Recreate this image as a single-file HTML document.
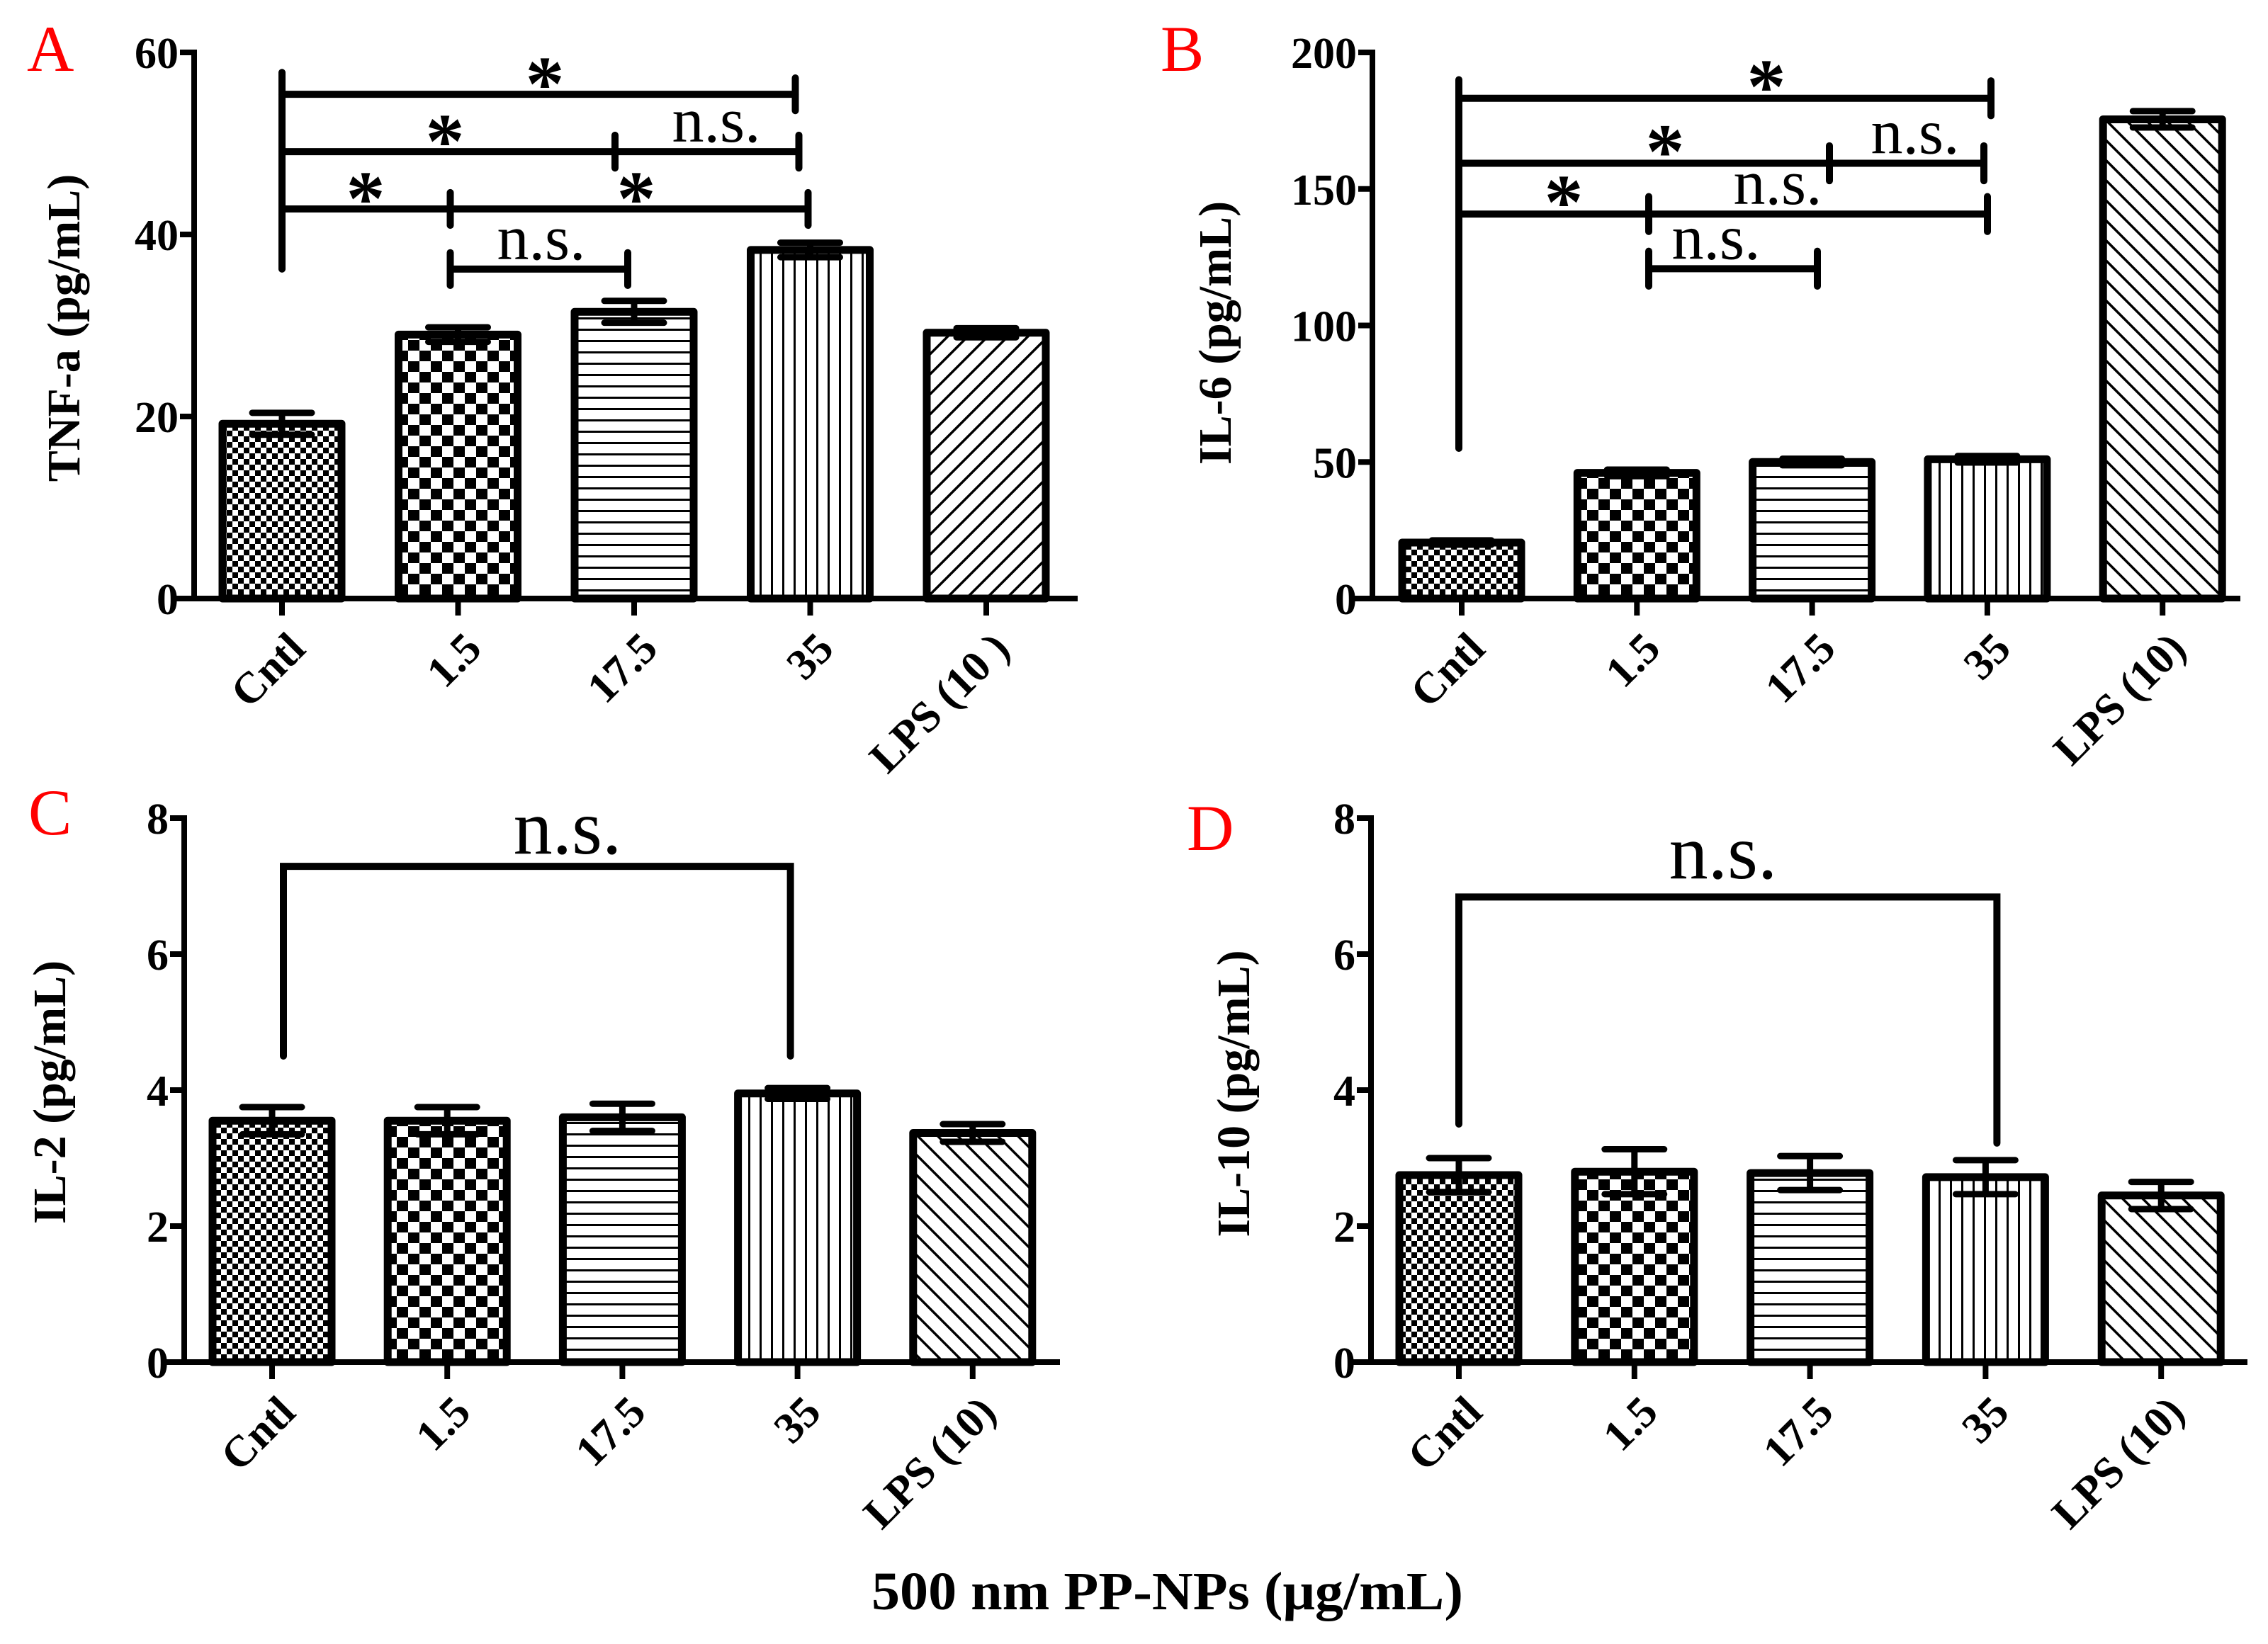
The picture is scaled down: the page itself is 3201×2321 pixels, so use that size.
<!DOCTYPE html>
<html><head><meta charset="utf-8"><style>html,body{margin:0;padding:0;background:#fff}svg{display:block}</style></head>
<body>
<svg id="fig" xmlns="http://www.w3.org/2000/svg" width="3201" height="2321" viewBox="0 0 3201 2321" font-family="'Liberation Serif', serif">
<defs>
<pattern id="pFine" width="16" height="16" patternUnits="userSpaceOnUse"><rect width="16" height="16" fill="#fff"/><rect width="8" height="8" fill="#000"/><rect x="8" y="8" width="8" height="8" fill="#000"/></pattern>
<pattern id="pCheck" width="32" height="30" patternUnits="userSpaceOnUse"><rect width="32" height="30" fill="#fff"/><rect width="16" height="15" fill="#000"/><rect x="16" y="15" width="16" height="15" fill="#000"/></pattern>
<pattern id="pHor" width="16" height="16" patternUnits="userSpaceOnUse"><rect width="16" height="16" fill="#fff"/><rect y="0" width="16" height="3" fill="#000"/></pattern>
<pattern id="pVer" width="16" height="16" patternUnits="userSpaceOnUse"><rect width="16" height="16" fill="#fff"/><rect x="0" width="3" height="16" fill="#000"/></pattern>
<pattern id="pDiagR" width="20" height="20" patternUnits="userSpaceOnUse" patternTransform="rotate(45)"><rect width="20" height="20" fill="#fff"/><rect width="3.5" height="20" fill="#000"/></pattern>
<pattern id="pDiagL" width="20" height="20" patternUnits="userSpaceOnUse" patternTransform="rotate(-45)"><rect width="20" height="20" fill="#fff"/><rect width="3.5" height="20" fill="#000"/></pattern>
</defs>
<text x="1230" y="2272" font-size="76" font-weight="bold" textLength="835" lengthAdjust="spacingAndGlyphs">500 nm PP-NPs (μg/mL)</text>
</svg>
<script>
const categories = ['Cntl', '1.5', '17.5', '35', 'LPS (10)'];
const categoriesA = ['Cntl', '1.5', '17.5', '35', 'LPS (10 )'];
const tnfValues = [19.2, 29.0, 31.5, 38.3, 29.2];
const tnfErrors = [1.2, 0.8, 1.2, 0.8, 0.5];
const il6Values = [20.5, 46, 50, 51, 175.5];
const il6Errors = [0.8, 1.2, 1.2, 1.2, 3];
const il2Values = [3.55, 3.55, 3.6, 3.95, 3.37];
const il2Errors = [0.2, 0.2, 0.2, 0.08, 0.13];
const il10Values = [2.75, 2.8, 2.78, 2.72, 2.45];
const il10Errors = [0.25, 0.33, 0.25, 0.25, 0.2];
const tnfTicks = [0, 20, 40, 60];
const il6Ticks = [0, 50, 100, 150, 200];
const il2Ticks = [0, 2, 4, 6, 8];
const il10Ticks = [0, 2, 4, 6, 8];

const NS = 'http://www.w3.org/2000/svg';
const svg = document.getElementById('fig');
function mk(tag, attrs, name, parent) {
  const el = document.createElementNS(NS, tag);
  for (const k in attrs) el.setAttribute(k, attrs[k]);
  
  
  (parent || svg).appendChild(el);
  return el;
}
const fills = ['url(#pFine)', 'url(#pCheck)', 'url(#pHor)', 'url(#pVer)'];

function panel(p) {
  const g = mk('g', {}, p.id + '-panel');
  const span = p.ticks[p.ticks.length - 1];
  const y = v => p.y0 - (v / span) * (p.y0 - p.yTop);
  const x = i => p.cx0 + i * p.step;
  p.x = x; p.y = y;
  mk('text', {x: p.letterX, y: p.letterY, 'font-size': 92, fill: '#ff0000'}, 'panel-letter-' + p.id, g).textContent = p.letter;
  p.values.forEach((v, i) => {
    const bw = 168;
    mk('rect', {x: x(i) - bw / 2, y: y(v), width: bw, height: p.y0 - y(v), fill: i === 4 ? p.diag : fills[i], stroke: '#000', 'stroke-width': 11, 'stroke-linejoin': 'round'}, 'bar-' + categories[i].toLowerCase().replace(/[^a-z0-9.]+/g, '-'), g);
    const e = p.errors[i];
    mk('path', {d: `M${x(i)} ${y(v + e)}V${y(v - e)}M${x(i) - 42} ${y(v + e)}H${x(i) + 42}M${x(i) - 42} ${y(v - e)}H${x(i) + 42}`, stroke: '#000', 'stroke-width': 9, 'stroke-linecap': 'round', fill: 'none'}, 'error-bar', g);
    mk('line', {x1: x(i), x2: x(i), y1: p.y0, y2: p.y0 + 24, stroke: '#000', 'stroke-width': 8}, 'x-tick', g);
    const t = mk('text', {x: 0, y: 0, 'font-size': 62, 'font-weight': 'bold', 'text-anchor': 'end', transform: `translate(${x(i) + 36},${p.y0 + 74}) rotate(-45)`}, 'x-tick-label', g);
    t.textContent = p.labels[i];
  });
  mk('line', {x1: p.axisX, x2: p.axisX, y1: p.yTop - 4, y2: p.y0 + 4, stroke: '#000', 'stroke-width': 8}, 'y-axis', g);
  mk('line', {x1: p.axisX - 30, x2: p.xEnd, y1: p.y0, y2: p.y0, stroke: '#000', 'stroke-width': 8}, 'x-axis', g);
  p.ticks.forEach(t => {
    mk('line', {x1: p.axisX - 20, x2: p.axisX, y1: y(t), y2: y(t), stroke: '#000', 'stroke-width': 8}, 'y-tick', g);
    const tl = mk('text', {x: p.axisX - 22, y: y(t) + 22, 'font-size': 62, 'font-weight': 'bold', 'text-anchor': 'end'}, 'y-tick-label', g);
    tl.textContent = t;
  });
  const yt = mk('text', {x: 0, y: 0, 'font-size': 66, 'font-weight': 'bold', 'text-anchor': 'middle', transform: `translate(${p.ytX},${p.ytY}) rotate(-90)`}, 'y-axis-title', g);
  yt.textContent = p.ytitle;
  return g;
}
function seg(g, p, x1, x2, v) {
  const y = p.y(v);
  mk('path', {d: `M${x1} ${y}H${x2}`, stroke: '#000', 'stroke-width': 10, fill: 'none', 'stroke-linecap': 'round'}, 'significance-bracket', g);
}
function vtick(g, p, xx, v1, v2) {
  mk('line', {x1: xx, x2: xx, y1: p.y(v1), y2: p.y(v2), stroke: '#000', 'stroke-width': 10, 'stroke-linecap': 'round'}, 'bracket-end', g);
}
function label(g, xx, yy, txt, size, name) {
  const t = mk('text', {x: xx, y: yy, 'font-size': size, 'text-anchor': 'middle', 'font-weight': txt === '*' ? 'bold' : 'normal'}, name, g);
  t.textContent = txt;
}

const A = {id: 'a', letter: 'A', letterX: 38, letterY: 100, values: tnfValues, errors: tnfErrors, ticks: tnfTicks, labels: categoriesA,
  y0: 845, yTop: 74, axisX: 274, xEnd: 1521, cx0: 398, step: 248.5, diag: 'url(#pDiagR)', ytitle: 'TNF-a (pg/mL)', ytX: 112, ytY: 463};
const gA = panel(A);
vtick(gA, A, A.x(0), 57.8, 36.2);
seg(gA, A, A.x(0), A.x(3) - 21, 55.4); vtick(gA, A, A.x(3) - 21, 57.2, 53.6);
seg(gA, A, A.x(0), A.x(3) - 16, 49.1); vtick(gA, A, A.x(2) - 27, 50.9, 47.3); vtick(gA, A, A.x(3) - 16, 50.9, 47.3);
seg(gA, A, A.x(0), A.x(3) - 3, 42.8); vtick(gA, A, A.x(1) - 11, 44.6, 41); vtick(gA, A, A.x(3) - 3, 44.6, 41);
seg(gA, A, A.x(1) - 11, A.x(2) - 9, 36.2); vtick(gA, A, A.x(1) - 11, 38, 34.4); vtick(gA, A, A.x(2) - 9, 38, 34.4);
label(gA, 769, A.y(55.4) + 22, '*', 110, 'significance-star');
label(gA, 628, A.y(49.1) + 22, '*', 110, 'significance-star');
label(gA, 516, A.y(42.8) + 22, '*', 110, 'significance-star');
label(gA, 898, A.y(42.8) + 22, '*', 110, 'significance-star');
label(gA, 1011, A.y(49.1) - 14, 'n.s.', 90, 'ns-label');
label(gA, 764, A.y(36.2) - 14, 'n.s.', 90, 'ns-label');

const B = {id: 'b', letter: 'B', letterX: 1638, letterY: 100, values: il6Values, errors: il6Errors, ticks: il6Ticks, labels: categories,
  y0: 845, yTop: 74, axisX: 1937, xEnd: 3162, cx0: 2063, step: 247.3, diag: 'url(#pDiagL)', ytitle: 'IL-6 (pg/mL)', ytX: 1737, ytY: 470};
const gB = panel(B);
vtick(gB, B, B.x(0) - 4, 190, 55);
seg(gB, B, B.x(0) - 4, 2810, 183.2); vtick(gB, B, 2810, 189.6, 176.8);
seg(gB, B, B.x(0) - 4, 2800, 159.4); vtick(gB, B, 2582, 165.8, 153); vtick(gB, B, 2800, 165.8, 153);
seg(gB, B, B.x(0) - 4, 2805, 140.8); vtick(gB, B, 2327, 147.2, 134.4); vtick(gB, B, 2805, 147.2, 134.4);
seg(gB, B, 2327, 2565, 120.8); vtick(gB, B, 2327, 127.2, 114.4); vtick(gB, B, 2565, 127.2, 114.4);
label(gB, 2493, B.y(183.2) + 20, '*', 110, 'significance-star');
label(gB, 2350, B.y(159.4) + 20, '*', 110, 'significance-star');
label(gB, 2207, B.y(140.8) + 20, '*', 110, 'significance-star');
label(gB, 2703, B.y(159.4) - 14, 'n.s.', 90, 'ns-label');
label(gB, 2509, B.y(140.8) - 14, 'n.s.', 90, 'ns-label');
label(gB, 2422, B.y(120.8) - 14, 'n.s.', 90, 'ns-label');

const C = {id: 'c', letter: 'C', letterX: 40, letterY: 1178, values: il2Values, errors: il2Errors, ticks: il2Ticks, labels: categories,
  y0: 1923, yTop: 1155, axisX: 260, xEnd: 1496, cx0: 384, step: 247.2, diag: 'url(#pDiagL)', ytitle: 'IL-2 (pg/mL)', ytX: 92, ytY: 1542};
const gC = panel(C);
mk('path', {d: `M${C.x(0) + 16} ${C.y(4.5)}V${C.y(7.29)}H${C.x(3) - 10}V${C.y(4.5)}`, stroke: '#000', 'stroke-width': 10, fill: 'none', 'stroke-linecap': 'round'}, 'significance-bracket', gC);
label(gC, 801, 1205, 'n.s.', 110, 'ns-label');

const D = {id: 'd', letter: 'D', letterX: 1675, letterY: 1200, values: il10Values, errors: il10Errors, ticks: il10Ticks, labels: categories,
  y0: 1923, yTop: 1155, axisX: 1935, xEnd: 3172, cx0: 2059, step: 247.8, diag: 'url(#pDiagL)', ytitle: 'IL-10 (pg/mL)', ytX: 1763, ytY: 1544};
const gD = panel(D);
mk('path', {d: `M${D.x(0)} ${D.y(3.5)}V${D.y(6.84)}H${D.x(3) + 16}V${D.y(3.22)}`, stroke: '#000', 'stroke-width': 10, fill: 'none', 'stroke-linecap': 'round'}, 'significance-bracket', gD);
label(gD, 2432, 1240, 'n.s.', 110, 'ns-label');
</script>
</body></html>
